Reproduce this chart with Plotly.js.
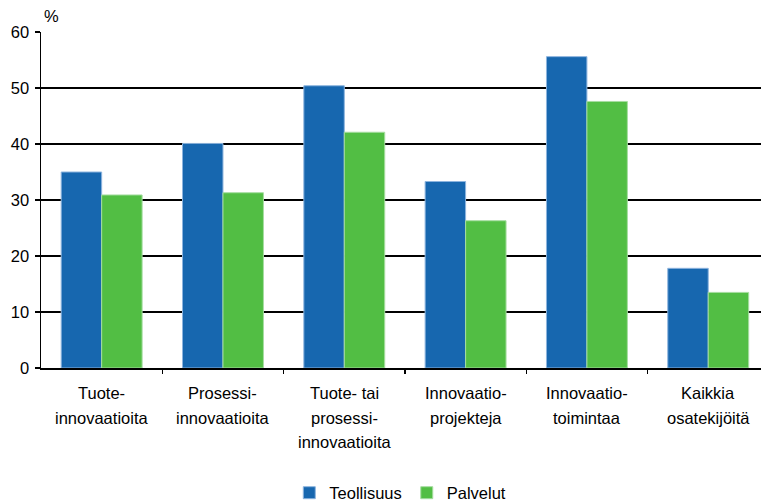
<!DOCTYPE html>
<html>
<head>
<meta charset="utf-8">
<script src="https://cdn.plot.ly/plotly-3.0.1.min.js"></script>
<style>html,body{margin:0;padding:0;background:#fff;}#chart{width:761px;height:502px;}</style>
</head>
<body>
<div id="chart"></div>
<script>
const categories = ["Tuote-\ninnovaatioita", "Prosessi-\ninnovaatioita", "Tuote- tai\nprosessi-\ninnovaatioita", "Innovaatio-\nprojekteja", "Innovaatio-\ntoimintaa", "Kaikkia\nosatekijöitä"];
const teollisuus = [35.0, 40.1, 50.4, 33.3, 55.6, 17.8];
const palvelut = [30.9, 31.3, 42.1, 26.3, 47.6, 13.5];
const seriesNames = ["Teollisuus", "Palvelut"];
const yTicks = [0, 10, 20, 30, 40, 50, 60];

const idx = categories.map((c, i) => i);
const font = {family: "Liberation Sans, Arial, sans-serif", size: 16.5, color: "#000"};

const traces = [
  {type: "bar", name: seriesNames[0], x: idx, y: teollisuus,
   marker: {color: "#1767AF", line: {color: "#8DB4DE", width: 1}}},
  {type: "bar", name: seriesNames[1], x: idx, y: palvelut,
   marker: {color: "#52BE44", line: {color: "#A6DDA0", width: 1}}}
];

const annotations = [];
categories.forEach((c, i) => {
  c.split("\n").forEach((line, j) => {
    annotations.push({x: i, y: 0, xref: "x", yref: "y", text: line, showarrow: false,
      xanchor: "center", yanchor: "middle", yshift: -25 - j * 24.5, font: font});
  });
});
annotations.push({x: 0.002, y: 1.048, xref: "paper", yref: "paper", text: "%", showarrow: false,
  xanchor: "left", yanchor: "middle", font: font});

const layout = {
  width: 761, height: 502,
  margin: {l: 41, r: 0, t: 32, b: 134, autoexpand: false},
  paper_bgcolor: "#fff", plot_bgcolor: "#fff",
  font: font,
  barmode: "group", bargap: 0.333, bargroupgap: 0,
  showlegend: true,
  legend: {orientation: "h", xref: "container", yref: "container", x: 0.526, xanchor: "center",
    y: 0.018, yanchor: "middle", font: font, itemwidth: 30, tracegroupgap: 0},
  xaxis: {range: [-0.5, 5.435], showgrid: false, zeroline: false, showline: true,
    linecolor: "#000", linewidth: 1.5, tickmode: "array", tickvals: [0.5, 1.5, 2.5, 3.5, 4.5],
    ticks: "outside", ticklen: 4, tickcolor: "#000", tickwidth: 1.5, showticklabels: false, fixedrange: true},
  yaxis: {range: [0, 60], tickmode: "array", tickvals: yTicks, ticktext: yTicks.map(String),
    showgrid: true, gridcolor: "#000", gridwidth: 1.5, zeroline: false, showline: true,
    linecolor: "#000", linewidth: 1.5, ticks: "outside", ticklen: 5, tickcolor: "#000", tickwidth: 1.5,
    ticklabelstandoff: 2, tickfont: font, fixedrange: true},
  annotations: annotations
};

Plotly.newPlot("chart", traces, layout, {displayModeBar: false, staticPlot: true});
</script>
</body>
</html>
